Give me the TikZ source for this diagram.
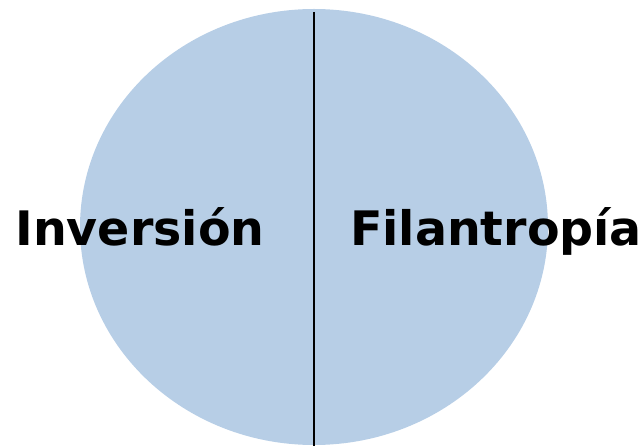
\documentclass[tikz,border=0pt]{standalone}
\usepackage{fontspec}
\setmainfont{DejaVu Sans}
\definecolor{lblue}{HTML}{B7CEE6}
\begin{document}
\begin{tikzpicture}[x=1pt,y=-1pt,
  lbl/.style={font=\fontsize{47.5}{57}\selectfont\bfseries, inner sep=0pt, text=black}]
\useasboundingbox (0,0) rectangle (644,446);
\fill[lblue] (314,227) ellipse [x radius=234, y radius=218] node (circ) {};
\coordinate (top) at (314,12);
\coordinate (bot) at (314,446);
\draw[line width=1.5pt] (top) -- (bot);
\node[lbl, anchor=base] (inv) at (140,245) {Inversión};
\node[lbl, anchor=base] (fil) at (496,245) {Filantropía};
\end{tikzpicture}
\end{document}
